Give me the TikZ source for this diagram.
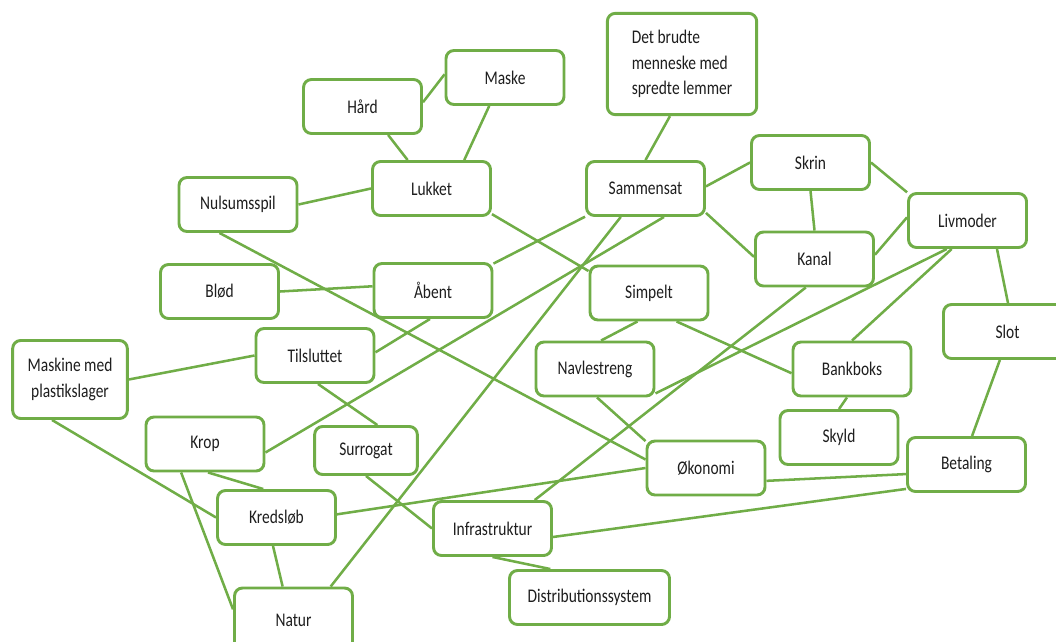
\documentclass[tikz,border=0pt]{standalone}
\usepackage{fontspec}
\setmainfont{Carlito}[FakeStretch=0.8]
\definecolor{leafgreen}{RGB}{112,173,71}
\definecolor{inkgray}{RGB}{30,30,30}
\tikzset{
    concept/.style={draw=leafgreen,line width=2.2pt,rounded corners=6pt,fill=white,
        text=inkgray,font=\fontsize{14.5}{19.3}\selectfont,align=center,
        minimum width=88.5pt,minimum height=40.5pt,inner sep=2pt},
    link/.style={draw=leafgreen,line width=1.9pt}
}
\begin{document}
\begin{tikzpicture}[x=0.75pt,y=-0.75pt]
        \useasboundingbox (0,0) rectangle (1056,642);
        \begin{scope}[every node/.style={concept}]
            \node (hard)        at (362.5,106.5) {Hård};
            \node (maske)       at (505,77.5)    {Maske};
            \node[minimum width=112pt,minimum height=76pt,align=left]
                  (brudte)      at (682,64)      {Det brudte\\menneske med\\spredte lemmer};
            \node (lukket)      at (431.5,188.5) {Lukket};
            \node (nulsum)      at (238,204.5)   {Nulsumsspil};
            \node (sammensat)   at (645.5,188.5) {Sammensat};
            \node (skrin)       at (810.5,162.5) {Skrin};
            \node (livmoder)    at (967.5,220.5) {Livmoder};
            \node (kanal)       at (814.5,259)   {Kanal};
            \node (blod)        at (219.5,291.5) {Blød};
            \node (aabent)      at (433,290.5)   {Åbent};
            \node (simpelt)     at (649,293)     {Simpelt};
            \node[minimum width=96pt]
                  (slot)        at (1007.5,331.5) {Slot};
            \node (tilsluttet)  at (315,355.5)   {Tilsluttet};
            \node[minimum width=86pt,minimum height=58.5pt]
                  (maskine)     at (70,379.5)    {Maskine med\\plastikslager};
            \node (navlestreng) at (595,369)     {Navlestreng};
            \node (bankboks)    at (852,369)     {Bankboks};
            \node (skyld)       at (839,437.5)   {Skyld};
            \node (krop)        at (205,444)     {Krop};
            \node[minimum width=77pt,minimum height=36pt]
                  (surrogat)    at (366,450.5)   {Surrogat};
            \node (okonomi)     at (706,468)     {Økonomi};
            \node (betaling)    at (966.5,464.5) {Betaling};
            \node (kredslob)    at (276.5,517.5) {Kredsløb};
            \node (infra)       at (492.5,528.5) {Infrastruktur};
            \node[minimum width=120pt]
                  (distrib)     at (589.5,597.5) {Distributionssystem};
            \node[minimum height=48pt]
                  (natur)       at (293.5,620)   {Natur};
        \end{scope}
        \begin{scope}[link]
            \draw (hard.4)--(maske.177.6);
            \draw (hard.312)--(lukket.130);
            \draw (maske.241.4)--(lukket.41.6);
            \draw (nulsum.east)--(lukket.west);
            \draw (lukket.337.6)--(simpelt.160.7);
            \draw (nulsum.237)--(okonomi.172.4);
            \draw (blod.east)--(aabent.176.7);
            \draw (aabent.24)--(sammensat.205);
            \draw (aabent.264)--(tilsluttet.3.3);
            \draw (maskine.east)--(tilsluttet.west);
            \draw (tilsluttet.276)--(surrogat.66.7);
            \draw (krop.352.5)--(sammensat.303);
            \draw (natur.42)--(sammensat.229.3);
            \draw (sammensat.north)--(brudte.257);
            \draw (sammensat.2.4)--(skrin.west);
            \draw (sammensat.338)--(kanal.178);
            \draw (skrin.south)--(kanal.north);
            \draw (skrin.east)--(livmoder.155.6);
            \draw (kanal.4)--(livmoder.177.6);
            \draw (livmoder.316)--(slot.89);
            \draw (slot.255)--(betaling.79);
            \draw (livmoder.234)--(navlestreng.338.7);
            \draw (livmoder.241)--(bankboks.north);
            \draw (kanal.253.1)--(infra.34.8);
            \draw (simpelt.248.6)--(navlestreng.78);
            \draw (simpelt.314)--(bankboks.184);
            \draw (bankboks.260)--(skyld.north);
            \draw (navlestreng.274)--(okonomi.156);
            \draw (okonomi.348)--(betaling.189.5);
            \draw (infra.352)--(betaling.202);
            \draw (okonomi.west)--(kredslob.3.4);
            \draw (infra.south)--(distrib.144);
            \draw (surrogat.south)--(infra.west);
            \draw (maskine.246.3)--(kredslob.west);
            \draw (krop.276)--(kredslob.115);
            \draw (krop.230)--(natur.170);
            \draw (kredslob.263)--(natur.108);
        \end{scope}
    \end{tikzpicture}
\end{document}
